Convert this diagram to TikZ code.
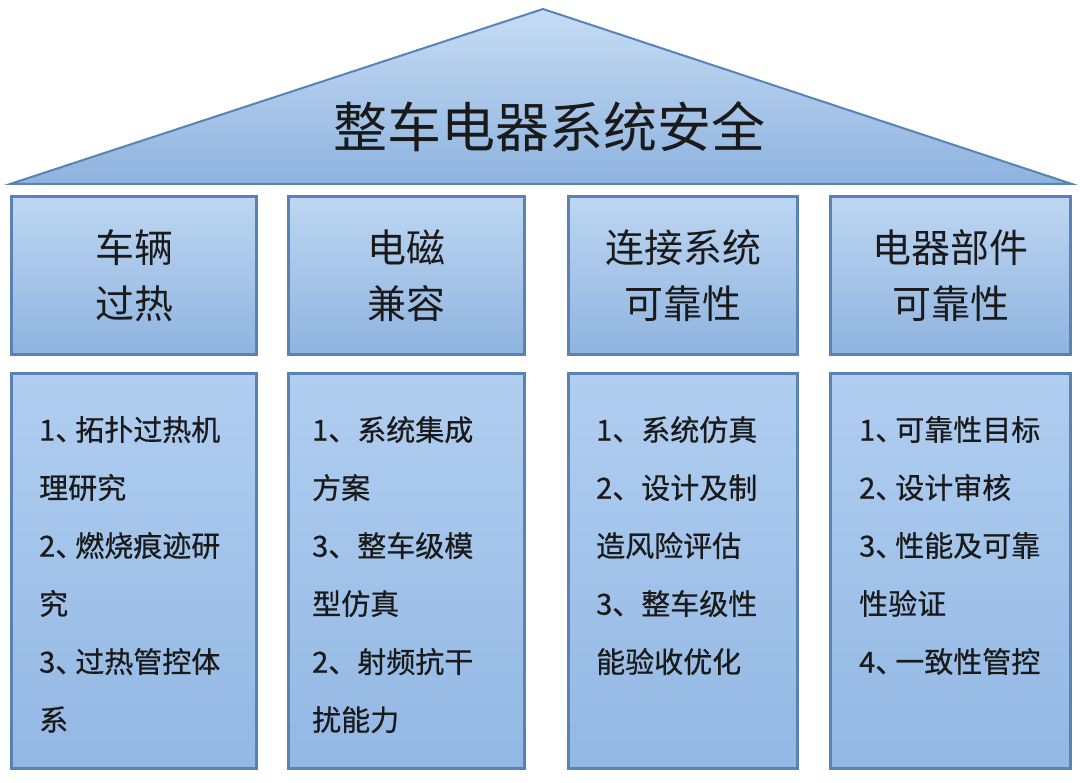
\documentclass[tikz,border=0pt]{standalone}
\usepackage{fontspec}
\newfontfamily\cjk{Noto Sans CJK SC}
\newfontfamily\cjkmed[FakeBold=0.6]{Noto Sans CJK SC}
\definecolor{edgeblue}{HTML}{5982B5}
\definecolor{rooftop}{HTML}{C6DCF4}
\definecolor{roofbot}{HTML}{8EB3DF}
\definecolor{headtop}{HTML}{BDD6F2}
\definecolor{headbot}{HTML}{8FB4E0}
\definecolor{bodytop}{HTML}{B0CEF0}
\definecolor{bodybot}{HTML}{93B8E4}
\definecolor{inkcol}{HTML}{1A1A1A}
\newcommand{\dun}{、\kern-9pt}
\tikzset{
  roofshape/.style={draw=edgeblue, line width=2pt, top color=rooftop, bottom color=roofbot, line join=miter},
  headbox/.style={draw=edgeblue, line width=3.5pt, top color=headtop, bottom color=headbot,
    minimum height=158pt, inner sep=0pt, align=center, text=inkcol,
    font=\cjk\fontsize{39}{56}\selectfont},
  bodybox/.style={draw=edgeblue, line width=3.5pt, top color=bodytop, bottom color=bodybot,
    minimum height=395pt, inner sep=0pt},
  bodytext/.style={anchor=north west, inner sep=0pt, align=left, text=inkcol,
    font=\cjkmed\fontsize{29}{58}\selectfont},
  titletext/.style={text=inkcol, font=\cjk\fontsize{54}{60}\selectfont, inner sep=0pt},
}
\begin{document}
\begin{tikzpicture}[x=1pt,y=-1pt]
\useasboundingbox (0,0) rectangle (1080,783);
% roof
\path[roofshape] (10,184) coordinate (rl) -- (543,9) coordinate (ra) -- (1072,184) coordinate (rr) -- cycle;
\node[titletext] (title) at (549,127) {整车电器系统安全};
% header boxes
\node[headbox, minimum width=245pt] (h1) at (134,275.5) {车辆\\过热};
\node[headbox, minimum width=236pt] (h2) at (406.5,275.5) {电磁\\兼容};
\node[headbox, minimum width=229pt] (h3) at (683,275.5) {连接系统\\可靠性};
\node[headbox, minimum width=240pt] (h4) at (950.5,275.5) {电器部件\\可靠性};
% body boxes
\node[bodybox, minimum width=245pt] (b1) at (134,571) {};
\node[bodybox, minimum width=236pt] (b2) at (406.5,571) {};
\node[bodybox, minimum width=229pt] (b3) at (683,571) {};
\node[bodybox, minimum width=240pt] (b4) at (950.5,571) {};
% body texts
\node[bodytext] (t1) at (39,416) {1\dun 拓扑过热机\\理研究\\2\dun 燃烧痕迹研\\究\\3\dun 过热管控体\\系};
\node[bodytext] (t2) at (312,416) {1、系统集成\\方案\\3、整车级模\\型仿真\\2、射频抗干\\扰能力};
\node[bodytext] (t3) at (596,416) {1、系统仿真\\2、设计及制\\造风险评估\\3、整车级性\\能验收优化};
\node[bodytext] (t4) at (859,416) {1\dun 可靠性目标\\2\dun 设计审核\\3\dun 性能及可靠\\性验证\\4\dun 一致性管控};
\end{tikzpicture}
\end{document}
